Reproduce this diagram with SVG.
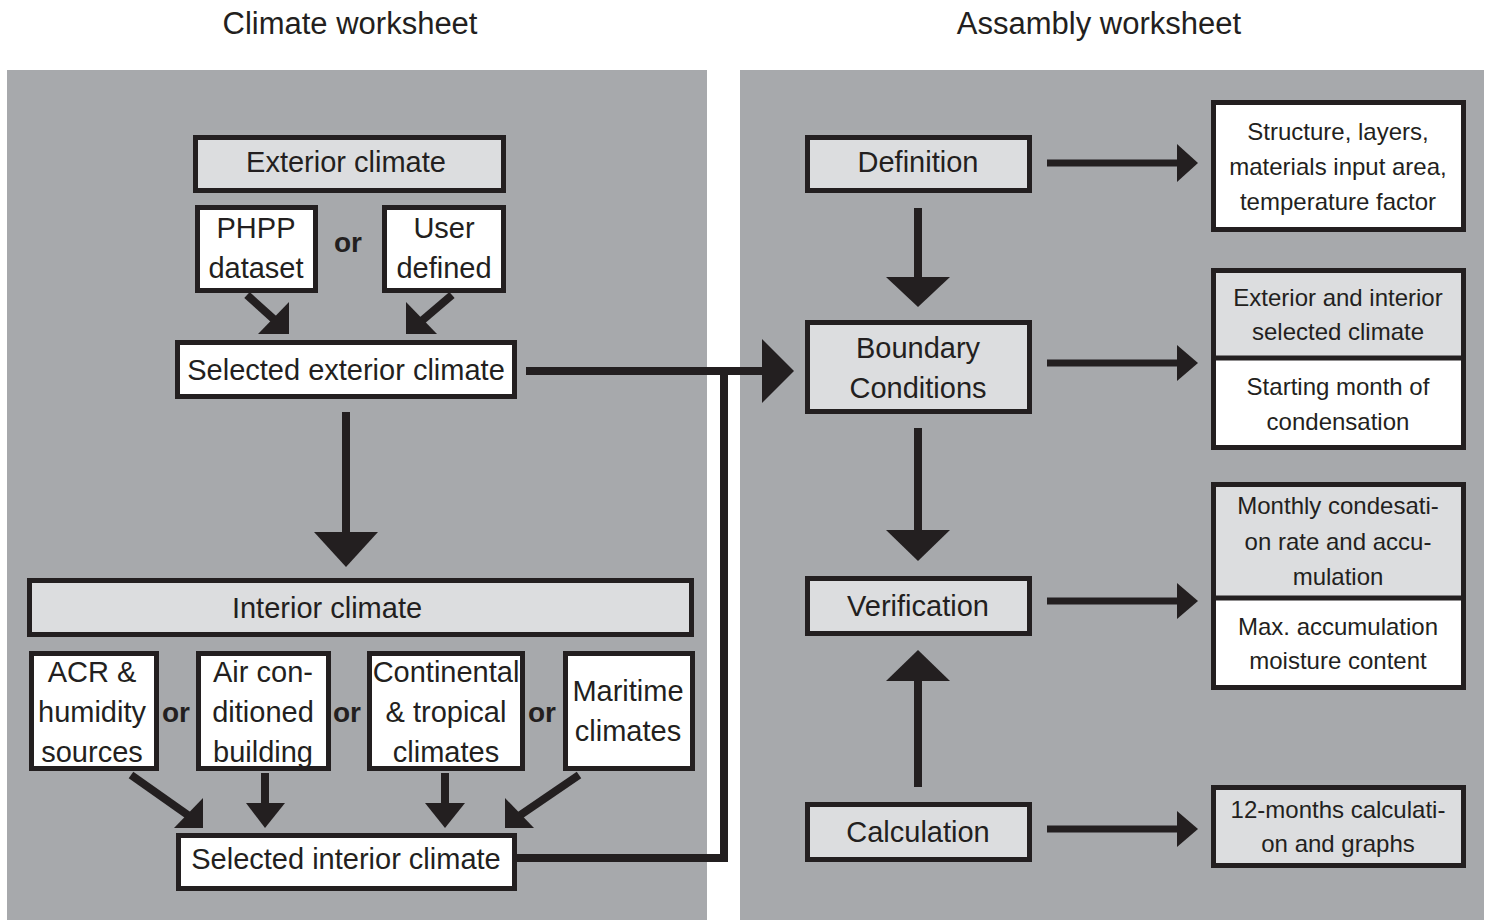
<svg xmlns="http://www.w3.org/2000/svg" width="1490" height="920" viewBox="0 0 1490 920">
<style>
.panel{fill:#a7a9ac}
.box{stroke:#231f20;stroke-width:5}
.w{fill:#ffffff}
.g{fill:#dcdddf}
.t{font-family:"Liberation Sans",Arial,sans-serif;font-size:29px;fill:#231f20;text-anchor:middle}
.s{font-family:"Liberation Sans",Arial,sans-serif;font-size:24px;fill:#231f20;text-anchor:middle}
.or{font-family:"Liberation Sans",Arial,sans-serif;font-size:28px;font-weight:bold;fill:#231f20;text-anchor:middle}
.title{font-family:"Liberation Sans",Arial,sans-serif;font-size:31px;fill:#231f20;text-anchor:middle}
.ln{stroke:#231f20;stroke-width:8;fill:none}
.lr{stroke:#231f20;stroke-width:7;fill:none}
.hd{fill:#231f20}
</style>
<rect width="1490" height="920" fill="#ffffff"/>
<rect class="panel" x="7" y="70" width="700" height="850"/>
<rect class="panel" x="740" y="70" width="744" height="850"/>
<text class="title" x="350" y="34">Climate worksheet</text>
<text class="title" x="1099" y="34">Assambly worksheet</text>

<g id="connectors">
  <!-- PHPP / User to selected exterior -->
  <line class="ln" x1="247" y1="295" x2="278" y2="323"/>
  <polygon class="hd" points="258,334 289,334 289,302"/>
  <line class="ln" x1="452" y1="295" x2="418" y2="324"/>
  <polygon class="hd" points="437,334 406,334 406,302"/>
  <!-- selected exterior down to interior -->
  <line class="ln" x1="346" y1="412" x2="346" y2="535"/>
  <polygon class="hd" points="314,532 378,532 346,567"/>
  <!-- interior options to selected interior -->
  <line class="ln" x1="131" y1="775" x2="192" y2="818"/>
  <polygon class="hd" points="174,828 203,828 203,798"/>
  <line class="ln" x1="265" y1="773" x2="265" y2="806"/>
  <polygon class="hd" points="246,803 285,803 265,828"/>
  <line class="ln" x1="445" y1="773" x2="445" y2="806"/>
  <polygon class="hd" points="425,803 465,803 445,828"/>
  <line class="ln" x1="579" y1="775" x2="516" y2="818"/>
  <polygon class="hd" points="534,828 505,828 505,798"/>
  <!-- to boundary conditions -->
  <path class="ln" d="M526,371 H766"/>
  <path class="ln" d="M517,858 H724 V371"/>
  <polygon class="hd" points="762,339 794,371 762,403"/>
  <!-- right column vertical -->
  <line class="ln" x1="918" y1="208" x2="918" y2="280"/>
  <polygon class="hd" points="886,277 950,277 918,307"/>
  <line class="ln" x1="918" y1="428" x2="918" y2="533"/>
  <polygon class="hd" points="886,530 950,530 918,561"/>
  <line class="ln" x1="918" y1="787" x2="918" y2="678"/>
  <polygon class="hd" points="886,681 950,681 918,650"/>
  <!-- right column horizontal -->
  <line class="lr" x1="1047" y1="163" x2="1180" y2="163"/>
  <polygon class="hd" points="1177,144 1198,163 1177,182"/>
  <line class="lr" x1="1047" y1="363" x2="1180" y2="363"/>
  <polygon class="hd" points="1177,345 1198,363 1177,381"/>
  <line class="lr" x1="1047" y1="601" x2="1180" y2="601"/>
  <polygon class="hd" points="1177,583 1198,601 1177,619"/>
  <line class="lr" x1="1047" y1="829" x2="1180" y2="829"/>
  <polygon class="hd" points="1177,811 1198,829 1177,847"/>
</g>

<g id="exterior-climate">
  <rect class="box g" x="195.5" y="137.5" width="308" height="53"/>
  <text class="t" x="346" y="172">Exterior climate</text>
</g>
<g id="phpp-dataset">
  <rect class="box w" x="197.5" y="207.5" width="118" height="83"/>
  <text class="t" x="256" y="238">PHPP</text>
  <text class="t" x="256" y="278">dataset</text>
</g>
<text class="or" x="348" y="252">or</text>
<g id="user-defined">
  <rect class="box w" x="384.5" y="207.5" width="119" height="83"/>
  <text class="t" x="444" y="238">User</text>
  <text class="t" x="444" y="278">defined</text>
</g>
<g id="selected-exterior">
  <rect class="box w" x="177.5" y="342.5" width="337" height="54"/>
  <text class="t" x="346" y="380">Selected exterior climate</text>
</g>
<g id="interior-climate">
  <rect class="box g" x="29.5" y="580.5" width="662" height="54"/>
  <text class="t" x="327" y="618">Interior climate</text>
</g>
<g id="acr">
  <rect class="box w" x="31.5" y="653.5" width="125" height="115"/>
  <text class="t" x="92" y="682">ACR &amp;</text>
  <text class="t" x="92" y="722">humidity</text>
  <text class="t" x="92" y="762">sources</text>
</g>
<text class="or" x="176" y="722">or</text>
<g id="air-conditioned">
  <rect class="box w" x="198.5" y="653.5" width="130" height="115"/>
  <text class="t" x="263" y="682">Air con-</text>
  <text class="t" x="263" y="722">ditioned</text>
  <text class="t" x="263" y="762">building</text>
</g>
<text class="or" x="347" y="722">or</text>
<g id="continental">
  <rect class="box w" x="369.5" y="653.5" width="153" height="115"/>
  <text class="t" x="446" y="682">Continental</text>
  <text class="t" x="446" y="722">&amp; tropical</text>
  <text class="t" x="446" y="762">climates</text>
</g>
<text class="or" x="542" y="722">or</text>
<g id="maritime">
  <rect class="box w" x="565.5" y="653.5" width="127" height="115"/>
  <text class="t" x="628" y="701">Maritime</text>
  <text class="t" x="628" y="741">climates</text>
</g>
<g id="selected-interior">
  <rect class="box w" x="178.5" y="835.5" width="336" height="53"/>
  <text class="t" x="346" y="869">Selected interior climate</text>
</g>

<g id="definition">
  <rect class="box g" x="807.5" y="137.5" width="222" height="53"/>
  <text class="t" x="918" y="172">Definition</text>
</g>
<g id="boundary-conditions">
  <rect class="box g" x="807.5" y="322.5" width="222" height="89"/>
  <text class="t" x="918" y="358">Boundary</text>
  <text class="t" x="918" y="398">Conditions</text>
</g>
<g id="verification">
  <rect class="box g" x="807.5" y="578.5" width="222" height="55"/>
  <text class="t" x="918" y="616">Verification</text>
</g>
<g id="calculation">
  <rect class="box g" x="807.5" y="804.5" width="222" height="55"/>
  <text class="t" x="918" y="842">Calculation</text>
</g>

<g id="structure">
  <rect class="box w" x="1213.5" y="102.5" width="250" height="127"/>
  <text class="s" x="1338" y="140">Structure, layers,</text>
  <text class="s" x="1338" y="175">materials input area,</text>
  <text class="s" x="1338" y="210">temperature factor</text>
</g>
<g id="boundary-details">
  <rect class="g" x="1213.5" y="270.5" width="250" height="88"/>
  <rect class="w" x="1213.5" y="358" width="250" height="89.5"/>
  <rect class="box" fill="none" x="1213.5" y="270.5" width="250" height="177"/>
  <line stroke="#231f20" stroke-width="5" x1="1213.5" y1="358" x2="1463.5" y2="358"/>
  <text class="s" x="1338" y="306">Exterior and interior</text>
  <text class="s" x="1338" y="340">selected climate</text>
  <text class="s" x="1338" y="395">Starting month of</text>
  <text class="s" x="1338" y="430">condensation</text>
</g>
<g id="verification-details">
  <rect class="g" x="1213.5" y="484.5" width="250" height="113.5"/>
  <rect class="w" x="1213.5" y="598" width="250" height="89.5"/>
  <rect class="box" fill="none" x="1213.5" y="484.5" width="250" height="203"/>
  <line stroke="#231f20" stroke-width="5" x1="1213.5" y1="598" x2="1463.5" y2="598"/>
  <text class="s" x="1338" y="514">Monthly condesati-</text>
  <text class="s" x="1338" y="550">on rate and accu-</text>
  <text class="s" x="1338" y="585">mulation</text>
  <text class="s" x="1338" y="635">Max. accumulation</text>
  <text class="s" x="1338" y="669">moisture content</text>
</g>
<g id="calculation-details">
  <rect class="box g" x="1213.5" y="787.5" width="250" height="78"/>
  <text class="s" x="1338" y="818">12-months calculati-</text>
  <text class="s" x="1338" y="852">on and graphs</text>
</g>
</svg>
